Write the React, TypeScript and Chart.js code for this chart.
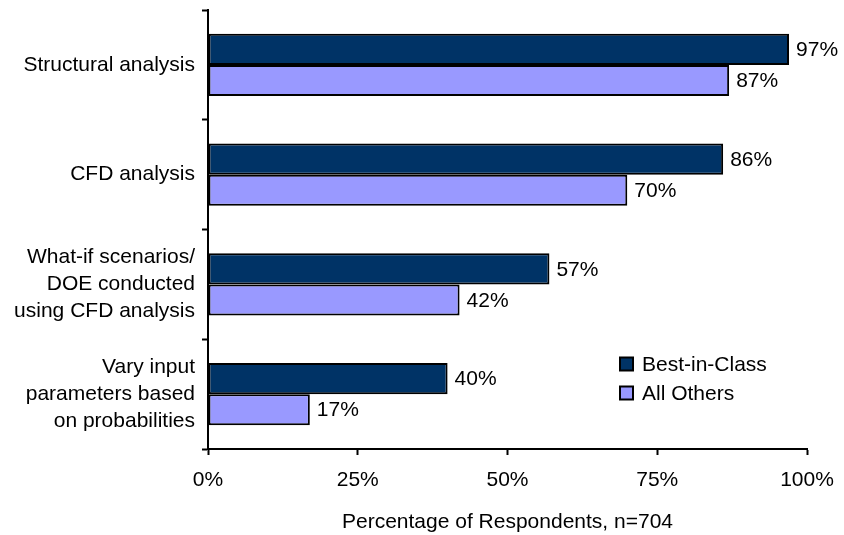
import React, { useEffect, useRef } from "react";
import { Chart, registerables } from "chart.js";

Chart.register(...registerables);

const categories: string[][] = [
  ["Structural analysis"],
  ["CFD analysis"],
  ["What-if scenarios/", "DOE conducted", "using CFD analysis"],
  ["Vary input", "parameters based", "on probabilities"],
];
const bestInClass = [97, 86, 57, 40];
const allOthers = [87, 70, 42, 17];
const seriesNames = ["Best-in-Class", "All Others"];
const seriesColors = ["#003366", "#9999FF"];
const xTicks = [0, 25, 50, 75, 100];
const axisTitle = "Percentage of Respondents, n=704";

const FONT = "'Liberation Sans', Arial, sans-serif";
const FS = 21;

const valueLabels = {
  id: "valueLabels",
  afterDatasetsDraw(chart: any) {
    const ctx = chart.ctx;
    ctx.save();
    ctx.font = `${FS}px ${FONT}`;
    ctx.fillStyle = "#000";
    ctx.textAlign = "left";
    ctx.textBaseline = "middle";
    chart.data.datasets.forEach((ds: any, i: number) => {
      const meta = chart.getDatasetMeta(i);
      meta.data.forEach((bar: any, j: number) => {
        ctx.fillText(ds.data[j] + "%", bar.x + 7, bar.y + 1);
      });
    });
    ctx.restore();
  },
};

const customLegend = {
  id: "customLegend",
  afterDraw(chart: any) {
    const ctx = chart.ctx;
    ctx.save();
    ctx.font = `${FS}px ${FONT}`;
    ctx.textAlign = "left";
    ctx.textBaseline = "middle";
    const x0 = 620;
    const ys = [364, 393];
    seriesNames.forEach((name, i) => {
      const y = ys[i];
      ctx.fillStyle = seriesColors[i];
      ctx.fillRect(x0, y - 6.5, 13, 13);
      ctx.strokeStyle = "#000";
      ctx.lineWidth = 2;
      ctx.strokeRect(x0, y - 6.5, 13, 13);
      ctx.fillStyle = "#000";
      ctx.fillText(name, x0 + 22, y + 1);
    });
    ctx.restore();
  },
};

export default function App() {
  const ref = useRef<HTMLCanvasElement | null>(null);
  useEffect(() => {
    if (!ref.current) return;
    const chart = new Chart(ref.current, {
      type: "bar",
      data: {
        labels: categories as any,
        datasets: [
          {
            label: seriesNames[0],
            data: bestInClass,
            backgroundColor: seriesColors[0],
            borderColor: "#000",
            borderWidth: 2,
            borderSkipped: false,
            categoryPercentage: 0.565,
            barPercentage: 1,
          },
          {
            label: seriesNames[1],
            data: allOthers,
            backgroundColor: seriesColors[1],
            borderColor: "#000",
            borderWidth: 2,
            borderSkipped: false,
            categoryPercentage: 0.565,
            barPercentage: 1,
          },
        ],
      },
      options: {
        indexAxis: "y",
        animation: false,
        responsive: true,
        maintainAspectRatio: false,
        layout: { padding: { top: 10, right: 37, bottom: 0, left: 0 } },
        plugins: {
          legend: { display: false },
          tooltip: { enabled: false },
        },
        scales: {
          x: {
            min: 0,
            max: 100,
            afterBuildTicks: (scale: any) => {
              scale.ticks = xTicks.map((v) => ({ value: v }));
            },
            afterFit: (scale: any) => {
              scale.height = 86;
              scale.paddingLeft = 0;
              scale.paddingRight = 0;
            },
            ticks: {
              color: "#000",
              font: { family: FONT, size: FS },
              padding: 13,
              maxRotation: 0,
              callback: (v: any) => v + "%",
            },
            grid: {
              drawOnChartArea: false,
              tickLength: 6,
              tickWidth: 2,
              tickColor: "#000",
            },
            border: { display: true, color: "#000", width: 2 },
            title: {
              display: true,
              text: axisTitle,
              color: "#000",
              font: { family: FONT, size: FS },
              padding: { top: 0, bottom: 0 },
            },
          },
          y: {
            afterFit: (scale: any) => {
              scale.width = 208;
              scale.paddingTop = 0;
              scale.paddingBottom = 0;
            },
            ticks: {
              color: "#000",
              font: { family: FONT, size: FS, lineHeight: 1.3 },
              padding: 7,
            },
            grid: {
              drawOnChartArea: false,
              offset: true,
              tickLength: 6,
              tickWidth: 2,
              tickColor: "#000",
            },
            border: { display: true, color: "#000", width: 2 },
          },
        },
      },
      plugins: [valueLabels, customLegend],
    });
    return () => chart.destroy();
  }, []);
  return (
    <div style={{ position: "absolute", left: 0, top: 0, width: 844, height: 535, background: "#fff" }}>
      <canvas ref={ref} />
    </div>
  );
}
